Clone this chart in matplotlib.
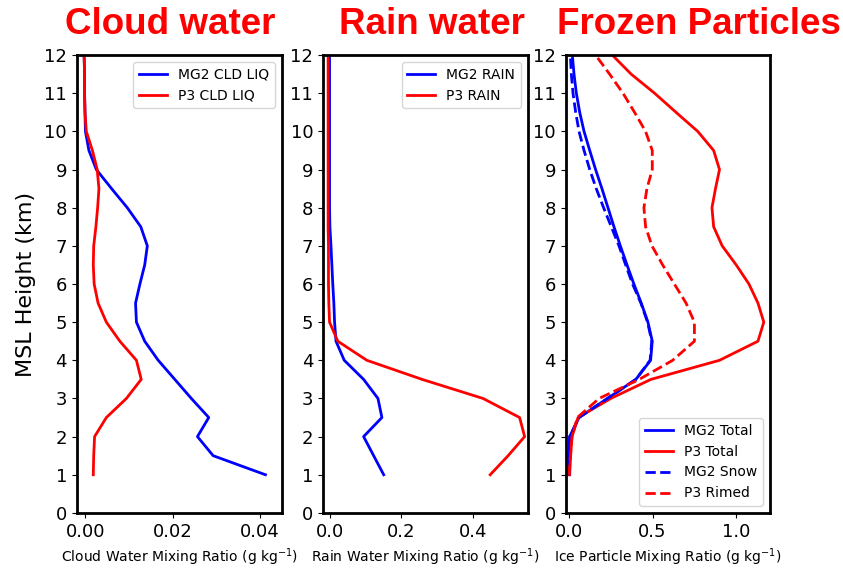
import numpy as np
import matplotlib
matplotlib.use("Agg")
import matplotlib.pyplot as plt

# heights (km MSL), every 0.5 km from 1 to 12
height = np.arange(1.0, 12.01, 0.5)

# cloud water (g/kg)
mg2_cld = [0.0413, 0.0293, 0.0257, 0.0283, 0.0243, 0.0205, 0.0167, 0.0136, 0.0117, 0.0115,
           0.0125, 0.0136, 0.0142, 0.0127, 0.0096, 0.0060, 0.0025, 0.0008, 0.0000, -0.0001,
           -0.0002, -0.0002, -0.0003]
p3_cld = [0.0018, 0.0019, 0.0021, 0.0048, 0.0094, 0.0128, 0.0117, 0.0079, 0.0048, 0.0029,
          0.0020, 0.0018, 0.0019, 0.0024, 0.0028, 0.0031, 0.0027, 0.0016, 0.0002, -0.0001,
          -0.0002, -0.0002, -0.0003]

# rain water (g/kg)
mg2_rain = [0.151, 0.123, 0.095, 0.146, 0.135, 0.095, 0.041, 0.018, 0.014, 0.012,
            0.009, 0.0065, 0.004, 0.001, 0.0, 0.0, 0.0, 0.0, 0.0, 0.0,
            0.0, 0.0, 0.0]
p3_rain = [0.448, 0.498, 0.544, 0.530, 0.428, 0.258, 0.104, 0.023, 0.0, -0.002,
           -0.003, -0.003, -0.003, -0.004, -0.004, -0.004, -0.004, -0.004, -0.004, -0.004,
           -0.004, -0.004, -0.004]

# frozen particles (g/kg)
mg2_total = [0.0, 0.0, 0.004, 0.06, 0.23, 0.40, 0.488, 0.498, 0.472, 0.432,
             0.388, 0.347, 0.307, 0.269, 0.233, 0.197, 0.159, 0.124, 0.09, 0.064,
             0.044, 0.03, 0.02]
p3_total = [0.004, 0.01, 0.018, 0.054, 0.25, 0.49, 0.90, 1.13, 1.165, 1.13,
            1.076, 1.0, 0.916, 0.865, 0.855, 0.876, 0.90, 0.865, 0.77, 0.64,
            0.512, 0.372, 0.259]
mg2_snow = [0.0, 0.0, 0.004, 0.06, 0.23, 0.40, 0.485, 0.495, 0.47, 0.43,
            0.38, 0.339, 0.299, 0.253, 0.207, 0.163, 0.124, 0.09, 0.06, 0.04,
            0.024, 0.014, 0.008]
p3_rimed = [0.0, 0.008, 0.018, 0.05, 0.18, 0.42, 0.62, 0.75, 0.75, 0.70,
            0.63, 0.56, 0.496, 0.458, 0.448, 0.466, 0.498, 0.498, 0.458, 0.392,
            0.323, 0.243, 0.159]

fig = plt.figure(figsize=(8.43, 5.68), dpi=100)
bot, h, w = 0.097, 0.806, 0.243
ax1 = fig.add_axes([0.091, bot, w, h])
ax2 = fig.add_axes([0.383, bot, w, h])
ax3 = fig.add_axes([0.671, bot, 0.242, h])

lw = 2
ax1.plot(mg2_cld, height, color='blue', lw=lw, label='MG2 CLD LIQ')
ax1.plot(p3_cld, height, color='red', lw=lw, label='P3 CLD LIQ')
ax1.set_xlim(-0.002, 0.045)
ax1.set_xticks([0.0, 0.02, 0.04])
ax1.set_xticklabels(['0.00', '0.02', '0.04'])
ax1.set_xlabel('Cloud Water Mixing Ratio (g kg$^{-1}$)', fontsize=10)
ax1.set_ylabel('MSL Height (km)', fontsize=16, labelpad=6)
ax1.legend(loc='upper right', fontsize=10)

ax2.plot(mg2_rain, height, color='blue', lw=lw, label='MG2 RAIN')
ax2.plot(p3_rain, height, color='red', lw=lw, label='P3 RAIN')
ax2.set_xlim(-0.0186, 0.5526)
ax2.set_xticks([0.0, 0.2, 0.4])
ax2.set_xlabel('Rain Water Mixing Ratio (g kg$^{-1}$)', fontsize=10)
ax2.legend(loc='upper right', fontsize=10)

ax3.plot(mg2_total, height, color='blue', lw=lw, label='MG2 Total')
ax3.plot(p3_total, height, color='red', lw=lw, label='P3 Total')
ax3.plot(mg2_snow, height, color='blue', lw=lw, ls='--', label='MG2 Snow')
ax3.plot(p3_rimed, height, color='red', lw=lw, ls='--', label='P3 Rimed')
ax3.set_xlim(-0.02, 1.2)
ax3.set_xticks([0.0, 0.5, 1.0])
ax3.set_xlabel('Ice Particle Mixing Ratio (g kg$^{-1}$)', fontsize=10)
ax3.legend(loc='lower right', fontsize=10)

for ax in (ax1, ax2, ax3):
    ax.set_ylim(0, 12)
    ax.set_yticks(range(0, 13))
    ax.tick_params(labelsize=13)
    for s in ax.spines.values():
        s.set_linewidth(2)

title_kw = dict(color='red', fontsize=26.5, fontweight='bold', family='Liberation Sans',
                ha='center', va='center')
fig.text(170 / 843, 1 - 24 / 568, 'Cloud water', **title_kw)
fig.text(432 / 843, 1 - 24 / 568, 'Rain water', **title_kw)
fig.text(699 / 843, 1 - 24 / 568, 'Frozen Particles', **title_kw)

fig.savefig('out.png', dpi=100)
